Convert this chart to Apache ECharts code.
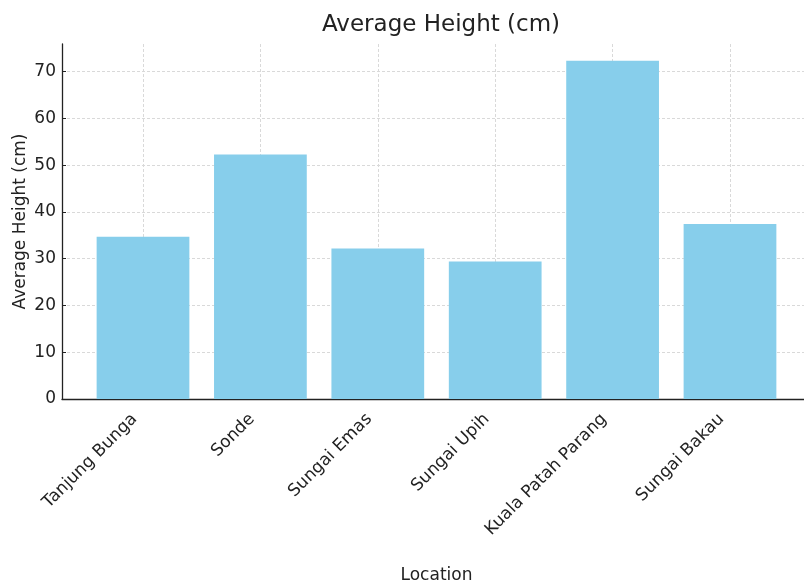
<!DOCTYPE html>
<html>
<head>
<meta charset="utf-8">
<script src="https://cdn.jsdelivr.net/npm/echarts@6/dist/echarts.min.js"></script>
<style>
html,body{margin:0;padding:0;background:#fff;}
#chart{width:804px;height:586px;}
</style>
</head>
<body>
<div id="chart"></div>
<script>
const categories = ["Tanjung Bunga", "Sonde", "Sungai Emas", "Sungai Upih", "Kuala Patah Parang", "Sungai Bakau"];
const heights = [34.7, 52.3, 32.2, 29.4, 72.3, 37.4];
const yTicks = [0, 10, 20, 30, 40, 50, 60, 70];
const titleText = "Average Height (cm)";
const xName = "Location";
const yName = "Average Height (cm)";

const positions = categories.map((c, i) => i);
const barData = heights.map((v, i) => [i, v]);
const FONT = "DejaVu Sans";

const chart = echarts.init(document.getElementById('chart'), null, {renderer: 'canvas'});
chart.setOption({
  animation: false,
  backgroundColor: '#ffffff',
  title: {
    text: titleText,
    left: 436,
    top: 9,
    textAlign: 'center',
    textStyle: {fontFamily: FONT, fontSize: 23, fontWeight: 'normal', color: '#222'}
  },
  grid: {
    left: 62, right: -7, top: 44, bottom: 187,
    containLabel: false,
    outerBoundsMode: 'none'
  },
  xAxis: {
    type: 'value',
    min: -0.69,
    max: 5.69,
    name: xName,
    nameLocation: 'middle',
    nameGap: 168,
    nameMoveOverlap: false,
    nameTextStyle: {fontFamily: FONT, fontSize: 17, color: '#222'},
    axisLine: {show: true, onZero: false, lineStyle: {color: '#222', width: 1.3}},
    axisTick: {show: true, inside: true, length: 4, customValues: positions, lineStyle: {color: '#222', width: 1}},
    axisLabel: {
      customValues: positions,
      rotate: 45,
      margin: 9,
      padding: [0, 12, 0, 0],
      fontFamily: FONT, fontSize: 17, color: '#222',
      formatter: v => categories[Math.round(v)]
    },
    splitLine: {show: true, lineStyle: {color: '#d9d9d9', type: [3, 2], width: 1}}
  },
  yAxis: {
    type: 'value',
    min: 0,
    max: 75.9,
    name: yName,
    nameLocation: 'middle',
    nameGap: 33,
    nameMoveOverlap: false,
    nameTextStyle: {fontFamily: FONT, fontSize: 17, color: '#222'},
    axisLine: {show: true, onZero: false, lineStyle: {color: '#222', width: 1.3}},
    axisTick: {show: true, inside: true, length: 4, customValues: yTicks, lineStyle: {color: '#222', width: 1}},
    axisLabel: {customValues: yTicks, margin: 6, fontFamily: FONT, fontSize: 17, color: '#222'},
    splitLine: {show: true, lineStyle: {color: '#d9d9d9', type: [3, 2], width: 1}}
  },
  series: [{
    type: 'bar',
    data: barData,
    barWidth: '79%',
    itemStyle: {color: '#87CEEB'},
    z: 1
  }]
});
</script>
</body>
</html>
